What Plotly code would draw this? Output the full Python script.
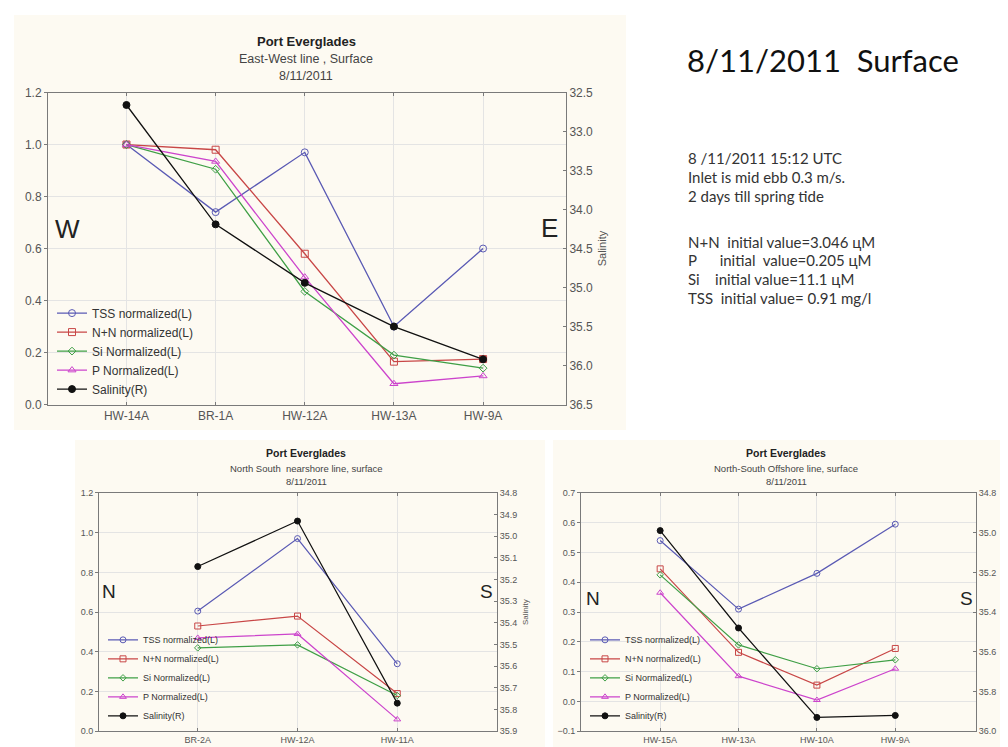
import plotly.graph_objects as go

# --- data ---
ew_stations = ["HW-14A", "BR-1A", "HW-12A", "HW-13A", "HW-9A"]
ew_tss = [1.0, 0.74, 0.97, 0.30, 0.60]
ew_nn = [1.0, 0.98, 0.58, 0.165, 0.175]
ew_si = [1.0, 0.905, 0.435, 0.19, 0.14]
ew_p = [1.0, 0.935, 0.49, 0.08, 0.11]
ew_sal = [32.66, 34.19, 34.94, 35.50, 35.92]

ns_near_stations = ["BR-2A", "HW-12A", "HW-11A"]
near_tss = [0.605, 0.97, 0.34]
near_nn = [0.53, 0.58, 0.19]
near_si = [0.42, 0.435, 0.18]
near_p = [0.47, 0.49, 0.06]
near_sal = [35.14, 34.93, 35.77]

ns_off_stations = ["HW-15A", "HW-13A", "HW-10A", "HW-9A"]
off_tss = [0.54, 0.31, 0.43, 0.595]
off_nn = [0.445, 0.165, 0.055, 0.178]
off_si = [0.425, 0.19, 0.11, 0.14]
off_p = [0.365, 0.085, 0.005, 0.11]
off_sal = [34.99, 35.48, 35.93, 35.92]

series_names = ["TSS normalized(L)", "N+N normalized(L)", "Si Normalized(L)",
                "P Normalized(L)", "Salinity(R)"]

info_lines = [
    "8 /11/2011 15:12 UTC",
    "Inlet is mid ebb 0.3 m/s.",
    "2 days till spring tide",
    "N+N\u00a0\u00a0initial value=3.046 цM",
    "P\u00a0\u00a0\u00a0\u00a0\u00a0\u00a0initial\u00a0\u00a0value=0.205 цM",
    "Si\u00a0\u00a0\u00a0\u00a0initial value=11.1 цM",
    "TSS\u00a0\u00a0initial value=\u00a00.91 mg/l",
]
info_y = [146, 165, 184, 231, 250, 269, 288]

W, H = 1008, 747
CHART_FONT = "Liberation Sans, Arial, sans-serif"
SLIDE_FONT = "Lato, Open Sans, sans-serif"

styles = [
    dict(color="#5a5ab4", symbol="circle-open"),
    dict(color="#c84646", symbol="square-open"),
    dict(color="#3f9f46", symbol="diamond-open"),
    dict(color="#cc44cc", symbol="triangle-up-open"),
    dict(color="#111111", symbol="circle"),
]


def px(x):
    return x / W


def py(y):
    return 1 - y / H


fig = go.Figure()


def add_panel(stations, left_series, sal, xa, ya_left, ya_right, legend, msize, lw):
    all_series = left_series + [sal]
    for i, (name, vals) in enumerate(zip(series_names, all_series)):
        st = styles[i]
        fig.add_trace(go.Scatter(
            x=stations, y=vals, name=name, mode="lines+markers",
            xaxis=xa, yaxis=ya_right if i == 4 else ya_left,
            legend=legend,
            line=dict(color=st["color"], width=lw),
            marker=dict(symbol=st["symbol"], size=msize if i != 2 else msize - 1,
                        color=st["color"], line=dict(width=1, color=st["color"])),
        ))


add_panel(ew_stations, [ew_tss, ew_nn, ew_si, ew_p], ew_sal, "x", "y", "y2", "legend", 7, 1.3)
add_panel(ns_near_stations, [near_tss, near_nn, near_si, near_p], near_sal, "x2", "y3", "y4", "legend2", 6, 1.2)
add_panel(ns_off_stations, [off_tss, off_nn, off_si, off_p], off_sal, "x3", "y5", "y6", "legend3", 6, 1.2)

grid = "#e4e4e4"
axline = "#7a7a7a"
tickc = "#555555"


def xax(domain, anchor, rng, size):
    return dict(domain=domain, anchor=anchor, type="category", range=rng,
                showgrid=True, gridcolor=grid, showline=True, linecolor=axline,
                mirror="ticks", ticks="inside", ticklen=3, tickcolor=axline,
                zeroline=False,
                tickfont=dict(family=CHART_FONT, size=size, color=tickc))


def yleft(domain, anchor, rng, dtick, size):
    return dict(domain=domain, anchor=anchor, range=rng, dtick=dtick, tickformat=".1f",
                showgrid=True, gridcolor=grid, showline=True, linecolor=axline,
                ticks="outside", ticklen=3, tickcolor=axline, zeroline=False,
                tickfont=dict(family=CHART_FONT, size=size, color=tickc))


def yright(overlay, anchor, rng, dtick, size):
    return dict(overlaying=overlay, anchor=anchor, side="right", range=rng, dtick=dtick,
                tickformat=".1f", showgrid=False, showline=True, linecolor=axline,
                ticks="inside", ticklen=3, tickcolor=axline, zeroline=False,
                tickfont=dict(family=CHART_FONT, size=size, color=tickc),
                title=dict(text="Salinity", standoff=6,
                           font=dict(family=CHART_FONT, size=size - 1, color=tickc)))


top_x = [px(40), px(558)]
top_y = [py(397), py(79)]
bl_x = [px(91), px(489)]
br_x = [px(573), px(968)]
bot_y = [py(730), py(487)]

fig.update_layout(
    xaxis=xax(top_x, "y", [-0.88, 4.93], 12),
    yaxis=yleft(top_y, "x", [0, 1.2], 0.2, 12),
    yaxis2=yright("y", "x", [36.5, 32.5], 0.5, 12),
    xaxis2=xax(bl_x, "y3", [-0.99, 3.0], 9),
    yaxis3=yleft(bot_y, "x2", [0, 1.2], 0.2, 9),
    yaxis4=yright("y3", "x2", [35.9, 34.8], 0.1, 9),
    xaxis3=xax(br_x, "y5", [-1.01, 4.03], 9),
    yaxis5=yleft(bot_y, "x3", [-0.1, 0.7], 0.1, 9),
    yaxis6=yright("y5", "x3", [36.0, 34.8], 0.2, 9),
)

leg_common = dict(bgcolor="rgba(0,0,0,0)", xanchor="left", yanchor="bottom",
                  itemwidth=30, tracegroupgap=0)
fig.update_layout(
    legend=dict(x=px(44), y=py(396), font=dict(family=CHART_FONT, size=12, color="#333"),
                **leg_common),
    legend2=dict(x=px(95), y=py(729), font=dict(family=CHART_FONT, size=9, color="#333"),
                 **leg_common),
    legend3=dict(x=px(577), y=py(729), font=dict(family=CHART_FONT, size=9, color="#333"),
                 **leg_common),
)

cream = "#fdfaf2"
for x0, y0, x1, y1 in [(6, 0, 618, 423), (67, 433, 537, 747), (545, 433, 1008, 747)]:
    fig.add_shape(type="rect", xref="paper", yref="paper", layer="below",
                  x0=px(x0), x1=px(x1), y0=py(y1), y1=py(y0),
                  fillcolor=cream, line=dict(width=0))


def note(text, x, y, size, color="#222", family=CHART_FONT, xanchor="center"):
    fig.add_annotation(text=text, x=px(x), y=py(y), xref="paper", yref="paper",
                       showarrow=False, xanchor=xanchor, yanchor="middle",
                       font=dict(family=family, size=size, color=color))


# chart titles
note("<b>Port Everglades</b>", 298, 27, 13)
note("East-West line , Surface", 298, 45, 12.5, "#444")
note("8/11/2011", 298, 62, 12.5, "#444")

note("<b>Port Everglades</b>", 298, 446, 10.5)
note("North South  nearshore line, surface", 298, 462, 9.5, "#444")
note("8/11/2011", 298, 475, 9.5, "#444")

note("<b>Port Everglades</b>", 778, 446, 10.5)
note("North-South Offshore line, surface", 778, 462, 9.5, "#444")
note("8/11/2011", 778, 475, 9.5, "#444")

# direction letters
note("W", 59, 218, 26)
note("E", 541, 217, 26)
note("N", 101, 588, 19)
note("S", 478, 588, 19)
note("N", 585, 595, 19)
note("S", 958, 595, 19)

# slide text
note("8/11/2011\u00a0\u00a0Surface", 677, 46, 31, "#111", SLIDE_FONT, "left")
for line, y in zip(info_lines, info_y):
    note(line, 678, y, 15, "#333", SLIDE_FONT, "left")

fig.update_layout(
    width=W, height=H, margin=dict(l=0, r=0, t=0, b=0),
    paper_bgcolor="white", plot_bgcolor="white",
    showlegend=True, font=dict(family=CHART_FONT),
)

fig.write_html("out.html")
